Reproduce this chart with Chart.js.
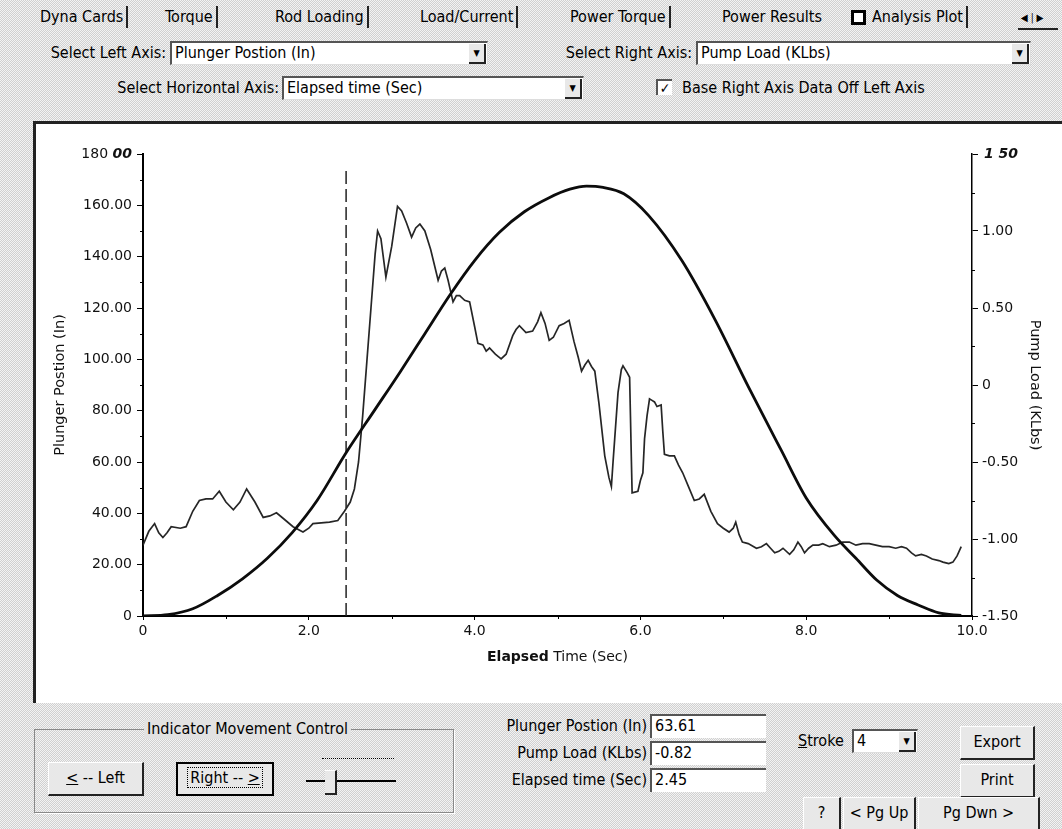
<!DOCTYPE html>
<html>
<head>
<meta charset="utf-8">
<script src="https://cdn.jsdelivr.net/npm/chart.js@4.4.1/dist/chart.umd.min.js"></script>
<style>
html, body { margin: 0; padding: 0; }
body {
    width: 1062px; height: 829px; position: relative; overflow: hidden;
    background: #e2e2e2 repeating-conic-gradient(#d0d0d0 0 25%, #f3f3f3 0 50%) 0 0 / 2px 2px;
    font-family: "Liberation Sans Narrow", "DejaVu Sans Condensed", "Liberation Sans", sans-serif;
    font-size: 16px; color: #000;
}
.t { position: absolute; white-space: nowrap; line-height: 20px; }
.tab { position: absolute; top: 6px; height: 22px; line-height: 22px; white-space: nowrap; border-right: 2px solid #222; padding-right: 3px; }
.combo {
    position: absolute; height: 24px; box-sizing: border-box; background: #fff;
    border-top: 2px solid #555; border-left: 2px solid #555; border-right: 1px solid #ddd; border-bottom: 1px solid #ddd;
    padding-left: 3px; line-height: 20px; white-space: nowrap;
}
.combo .arr {
    position: absolute; right: 1px; top: 1px; width: 15px; height: 18px; background: #e8e8e8;
    border-right: 2px solid #222; border-bottom: 2px solid #222; font-size: 9px; line-height: 18px; text-align: center;
}
.btn {
    position: absolute; box-sizing: border-box; background: #e8e8e8; text-align: center; white-space: nowrap;
    border-top: 1px solid #fff; border-left: 1px solid #fff; border-right: 2px solid #222; border-bottom: 2px solid #222;
}
.box {
    position: absolute; height: 24px; box-sizing: border-box; background: #fff;
    border-top: 2px solid #555; border-left: 2px solid #555; padding-left: 3px; line-height: 20px;
}
.lbl { position: absolute; white-space: nowrap; line-height: 20px; text-align: right; }
#panel {
    position: absolute; left: 33px; top: 121px; width: 1029px; height: 582px; box-sizing: border-box;
    background: #fff; border-left: 3px solid #222; border-top: 3px solid #222;
}
#wrap { position: absolute; left: 37px; top: 124px; width: 1025px; height: 578px; }
</style>
</head>
<body>

<!-- tab strip -->
<div class="tab" style="left:40px;">Dyna Cards</div>
<div class="tab" style="left:165px;">Torque</div>
<div class="tab" style="left:275px;">Rod Loading</div>
<div class="tab" style="left:420px;">Load/Current</div>
<div class="tab" style="left:570px;">Power Torque</div>
<div class="tab" style="left:722px;border-right:none;">Power Results</div>
<div class="t" style="left:851px;top:10px;width:9px;height:9px;border:3px solid #000;background:#fff;"></div>
<div class="tab" style="left:872px;">Analysis Plot</div>
<div class="t" style="left:1018px;top:8px;width:40px;height:20px;font-size:10px;line-height:20px;border-bottom:2px solid #222;">&nbsp;&#9664;&nbsp;|&nbsp;&#9654;</div>

<!-- axis selectors -->
<div class="lbl" style="right:896px;top:43px;">Select Left Axis:</div>
<div class="combo" style="left:170px;top:41px;width:318px;">Plunger Postion (In)<div class="arr">&#9660;</div></div>
<div class="lbl" style="right:370px;top:43px;">Select Right Axis:</div>
<div class="combo" style="left:696px;top:41px;width:335px;">Pump Load (KLbs)<div class="arr">&#9660;</div></div>
<div class="lbl" style="right:783px;top:78px;">Select Horizontal Axis:</div>
<div class="combo" style="left:282px;top:76px;width:302px;">Elapsed time (Sec)<div class="arr">&#9660;</div></div>
<div class="t" style="left:656px;top:79px;width:14px;height:14px;border-top:2px solid #555;border-left:2px solid #555;background:#fff;font-size:14px;line-height:14px;font-weight:bold;text-align:center;">&#10003;</div>
<div class="t" style="left:682px;top:78px;">Base Right Axis Data Off Left Axis</div>

<div id="panel"></div>
<div id="wrap"><canvas id="analysisChart" width="1025" height="578"></canvas></div>

<!-- indicator controls -->
<div class="t" style="left:34px;top:729px;width:418px;height:82px;border:1px solid #888;box-shadow:1px 1px 0 #fff;"></div>
<div class="t" style="left:144px;top:719px;padding:0 3px;background:#e2e2e2;">Indicator Movement Control</div>
<div class="btn" style="left:48px;top:762px;width:96px;height:34px;line-height:30px;"><u>&lt;</u> -- Left</div>
<div class="btn" style="left:176px;top:762px;width:98px;height:34px;line-height:28px;border:2px solid #000;"><span style="border:1px dotted #000;padding:0 2px;">Right -- <u>&gt;</u></span></div>
<div class="t" style="left:322px;top:758px;width:72px;height:6px;border-top:1px dotted #000;"></div>
<div class="t" style="left:306px;top:780px;width:90px;height:2px;background:#000;"></div>
<div class="t" style="left:325px;top:770px;width:10px;height:22px;background:#e8e8e8;border-right:2px solid #222;border-bottom:2px solid #222;border-top:1px solid #fff;"></div>

<!-- readouts -->
<div class="lbl" style="right:415px;top:716px;">Plunger Postion (In)</div>
<div class="box" style="left:650px;top:714px;width:116px;">63.61</div>
<div class="lbl" style="right:415px;top:743px;">Pump Load (KLbs)</div>
<div class="box" style="left:650px;top:741px;width:116px;">-0.82</div>
<div class="lbl" style="right:415px;top:770px;">Elapsed time (Sec)</div>
<div class="box" style="left:650px;top:768px;width:116px;">2.45</div>

<div class="t" style="left:798px;top:731px;"><u>S</u>troke</div>
<div class="combo" style="left:852px;top:729px;width:66px;">4<div class="arr">&#9660;</div></div>
<div class="btn" style="left:960px;top:726px;width:75px;height:34px;line-height:30px;">Export</div>
<div class="btn" style="left:960px;top:764px;width:75px;height:34px;line-height:30px;">Print</div>
<div class="btn" style="left:803px;top:797px;width:38px;height:34px;line-height:30px;">?</div>
<div class="btn" style="left:843px;top:797px;width:73px;height:34px;line-height:30px;">&lt; Pg Up</div>
<div class="btn" style="left:918px;top:797px;width:122px;height:34px;line-height:30px;">Pg Dwn &gt;</div>

<script>
// Plunger position (In), left axis - smooth stroke curve
const plungerTime = [0, 0.3, 0.6, 0.9, 1.2, 1.5, 1.8, 2.1, 2.45, 2.8, 3.1, 3.4, 3.7, 4.0, 4.3, 4.6, 4.9, 5.15,
    5.35, 5.55, 5.8, 6.1, 6.5, 6.9, 7.3, 7.7, 8.0, 8.35, 8.6, 8.85, 9.1, 9.35, 9.6, 9.87];
const plungerPos = [0, 0.5, 2.8, 8, 14.5, 22.5, 32.5, 45, 63.6, 80.5, 95, 110, 125, 138.5, 149.5, 157.5, 163, 166.3,
    167.5, 167, 164.5, 156, 138.5, 115.5, 89.5, 64.5, 46, 31, 22.5, 14, 8, 4.3, 1.2, 0.2];

// Pump load (KLbs), right axis - noisy trace
const loadTime = [0.00, 0.07, 0.14, 0.19, 0.24, 0.29, 0.34, 0.45, 0.52, 0.60, 0.68, 0.76, 0.84, 0.92, 1.00, 1.09,
    1.17, 1.25, 1.35, 1.45, 1.53, 1.61, 1.70, 1.81, 1.93, 2.00, 2.05, 2.15, 2.25, 2.35, 2.43, 2.50, 2.55, 2.60,
    2.65, 2.70, 2.75, 2.80, 2.83, 2.87, 2.93, 3.00, 3.07, 3.12, 3.18, 3.24, 3.29, 3.34, 3.40, 3.47, 3.56, 3.60,
    3.64, 3.68, 3.74, 3.78, 3.82, 3.88, 3.94, 4.00, 4.04, 4.10, 4.14, 4.18, 4.25, 4.32, 4.38, 4.46, 4.50, 4.54,
    4.62, 4.70, 4.76, 4.80, 4.85, 4.90, 4.95, 5.02, 5.08, 5.14, 5.20, 5.25, 5.29, 5.33, 5.37, 5.41, 5.45, 5.50,
    5.57, 5.62, 5.65, 5.67, 5.69, 5.73, 5.77, 5.79, 5.84, 5.87, 5.88, 5.89, 5.90, 5.97, 6.00, 6.03, 6.05, 6.08,
    6.11, 6.14, 6.17, 6.20, 6.25, 6.27, 6.29, 6.35, 6.41, 6.46, 6.51, 6.58, 6.65, 6.71, 6.77, 6.85, 6.93, 7.00,
    7.07, 7.12, 7.15, 7.19, 7.23, 7.30, 7.40, 7.46, 7.52, 7.57, 7.62, 7.67, 7.72, 7.80, 7.85, 7.90, 7.94, 7.98,
    8.03, 8.08, 8.15, 8.20, 8.28, 8.36, 8.44, 8.52, 8.60, 8.68, 8.76, 8.84, 8.92, 9.00, 9.08, 9.15, 9.21, 9.27,
    9.32, 9.39, 9.45, 9.52, 9.60, 9.65, 9.72, 9.77, 9.82, 9.87];
const pumpLoad = [-1.04, -0.95, -0.90, -0.96, -0.99, -0.96, -0.92, -0.93, -0.92, -0.82, -0.75, -0.74, -0.74, -0.69,
    -0.76, -0.81, -0.76, -0.675, -0.76, -0.86, -0.85, -0.83, -0.87, -0.92, -0.955, -0.93, -0.90, -0.895, -0.89,
    -0.88, -0.82, -0.76, -0.675, -0.50, -0.20, 0.15, 0.50, 0.85, 1.00, 0.95, 0.70, 0.90, 1.16, 1.13, 1.05, 0.96,
    1.02, 1.045, 1.00, 0.88, 0.68, 0.74, 0.76, 0.68, 0.54, 0.58, 0.58, 0.55, 0.54, 0.38, 0.27, 0.26, 0.22, 0.24,
    0.20, 0.17, 0.20, 0.32, 0.36, 0.385, 0.34, 0.35, 0.41, 0.47, 0.40, 0.29, 0.31, 0.385, 0.40, 0.42, 0.28, 0.18,
    0.09, 0.13, 0.16, 0.12, 0.09, -0.12, -0.46, -0.60, -0.66, -0.50, -0.35, -0.05, 0.10, 0.125, 0.08, 0.05, -0.20,
    -0.46, -0.70, -0.69, -0.62, -0.57, -0.35, -0.20, -0.09, -0.10, -0.11, -0.14, -0.13, -0.30, -0.45, -0.46, -0.46,
    -0.52, -0.57, -0.66, -0.75, -0.74, -0.71, -0.82, -0.90, -0.93, -0.955, -0.93, -0.89, -0.97, -1.02, -1.03,
    -1.06, -1.05, -1.03, -1.06, -1.09, -1.08, -1.06, -1.10, -1.07, -1.02, -1.05, -1.09, -1.06, -1.04, -1.04,
    -1.03, -1.05, -1.04, -1.02, -1.02, -1.04, -1.03, -1.03, -1.04, -1.05, -1.05, -1.06, -1.05, -1.06, -1.09,
    -1.11, -1.10, -1.11, -1.13, -1.14, -1.15, -1.16, -1.15, -1.11, -1.05];

// indicator cursor
const cursorTime = 2.45;
const cursorTop = 174.5;

// axis ticks
const leftMinorTicks = [10, 30, 50, 70, 90, 110, 130, 150, 170];
const rightMinorTicks = [-1.25, -0.75, -0.25, 0.25, 0.75, 1.25];
const bottomMinorTicks = [1, 3, 5, 7, 9];

const tickFont = { family: 'DejaVu Sans', size: 14 };
const titleFont = { family: 'DejaVu Sans', size: 14.5 };
const ink = '#111';

// minor tick marks, drawn through each scale
const minorTicks = {
    id: 'minorTicks',
    afterDraw(chart) {
        const { ctx, chartArea } = chart;
        const sx = chart.scales.x, sy = chart.scales.y, sr = chart.scales.y1;
        ctx.save();
        ctx.strokeStyle = '#000';
        ctx.lineWidth = 1;
        ctx.beginPath();
        leftMinorTicks.forEach(v => {
            const p = Math.round(sy.getPixelForValue(v)) + 0.5;
            ctx.moveTo(chartArea.left - 3, p); ctx.lineTo(chartArea.left, p);
        });
        rightMinorTicks.forEach(v => {
            const p = Math.round(sr.getPixelForValue(v)) + 0.5;
            ctx.moveTo(chartArea.right, p); ctx.lineTo(chartArea.right + 3, p);
        });
        bottomMinorTicks.forEach(v => {
            const p = Math.round(sx.getPixelForValue(v)) + 0.5;
            ctx.moveTo(p, chartArea.bottom); ctx.lineTo(p, chartArea.bottom + 3);
        });
        ctx.stroke();
        ctx.restore();
    }
};

// top tick labels with mixed styling and the bottom axis title
const extraLabels = {
    id: 'extraLabels',
    afterDraw(chart) {
        const { ctx, chartArea } = chart;
        const sy = chart.scales.y, sr = chart.scales.y1;
        ctx.save();
        ctx.fillStyle = ink;
        ctx.textBaseline = 'middle';

        // "180 00" on the left
        const yTop = sy.getPixelForValue(180);
        const normal = '14px "DejaVu Sans"';
        const boldIt = 'italic bold 14px "DejaVu Sans"';
        ctx.font = boldIt;
        const w00 = ctx.measureText('00').width;
        const xr = chartArea.left - 11;
        ctx.textAlign = 'right';
        ctx.fillText('00', xr, yTop);
        ctx.font = normal;
        ctx.fillText('180 ', xr - w00, yTop);

        // "1 50" on the right
        ctx.font = boldIt;
        ctx.textAlign = 'left';
        ctx.fillText('1 50', chartArea.right + 12, sr.getPixelForValue(1.5));

        // "Elapsed Time (Sec)"
        const cx = (chartArea.left + chartArea.right) / 2;
        const ty = chartArea.bottom + 41;
        const bold = 'bold 14px "DejaVu Sans"';
        ctx.font = bold;
        const w1 = ctx.measureText('Elapsed').width;
        ctx.font = normal;
        const w2 = ctx.measureText(' Time (Sec)').width;
        const x0 = cx - (w1 + w2) / 2;
        ctx.textAlign = 'left';
        ctx.font = bold;
        ctx.fillText('Elapsed', x0, ty);
        ctx.font = normal;
        ctx.fillText(' Time (Sec)', x0 + w1, ty);
        ctx.restore();
    }
};

function fmt(digits, top) {
    return function(value) {
        if (value === 0) return '0';
        if (Math.abs(value - top) < 1e-9) return '';
        return value.toFixed(digits);
    };
}

const ctx = document.getElementById('analysisChart');
new Chart(ctx, {
    type: 'line',
    data: {
        datasets: [
            {
                label: 'Plunger Postion (In)',
                data: plungerTime.map((t, i) => ({ x: t, y: plungerPos[i] })),
                yAxisID: 'y',
                borderColor: '#0c0c0c',
                borderWidth: 2.8,
                pointRadius: 0,
                cubicInterpolationMode: 'monotone'
            },
            {
                label: 'Pump Load (KLbs)',
                data: loadTime.map((t, i) => ({ x: t, y: pumpLoad[i] })),
                yAxisID: 'y1',
                borderColor: '#262626',
                borderWidth: 1.7,
                pointRadius: 0,
                tension: 0
            },
            {
                label: 'Indicator',
                data: [{ x: cursorTime, y: 0 }, { x: cursorTime, y: cursorTop }],
                yAxisID: 'y',
                borderColor: '#222',
                borderWidth: 1.5,
                borderDash: [13, 5],
                pointRadius: 0
            }
        ]
    },
    options: {
        responsive: false,
        animation: false,
        layout: { padding: { top: 30, left: 0, right: 0, bottom: 0 } },
        plugins: {
            legend: { display: false },
            tooltip: { enabled: false }
        },
        scales: {
            x: {
                type: 'linear',
                min: 0,
                max: 10,
                ticks: { stepSize: 2, callback: fmt(1, 99), font: tickFont, color: ink, padding: 3, maxRotation: 0 },
                grid: { drawOnChartArea: false, drawTicks: true, tickLength: 4, color: '#000' },
                border: { color: '#000', width: 2 },
                afterFit: s => { s.height = 86; }
            },
            y: {
                position: 'left',
                min: 0,
                max: 180,
                ticks: { stepSize: 20, callback: fmt(2, 180), font: tickFont, color: ink, padding: 5 },
                grid: { drawOnChartArea: false, drawTicks: true, tickLength: 6, color: '#000' },
                border: { color: '#000', width: 2 },
                title: {
                    display: true,
                    text: 'Plunger Postion (In)',
                    font: titleFont,
                    color: ink,
                    padding: { top: 15, bottom: 0 }
                },
                afterFit: s => { s.width = 106; }
            },
            y1: {
                position: 'right',
                min: -1.5,
                max: 1.5,
                ticks: { stepSize: 0.5, callback: fmt(2, 1.5), font: tickFont, color: ink, padding: 4 },
                grid: { drawOnChartArea: false, drawTicks: true, tickLength: 6, color: '#000' },
                border: { color: '#000', width: 1.5 },
                title: {
                    display: true,
                    text: 'Pump Load (KLbs)',
                    font: titleFont,
                    color: ink,
                    padding: { top: 19, bottom: 0 }
                },
                afterFit: s => { s.width = 90; }
            }
        }
    },
    plugins: [minorTicks, extraLabels]
});
</script>
</body>
</html>
